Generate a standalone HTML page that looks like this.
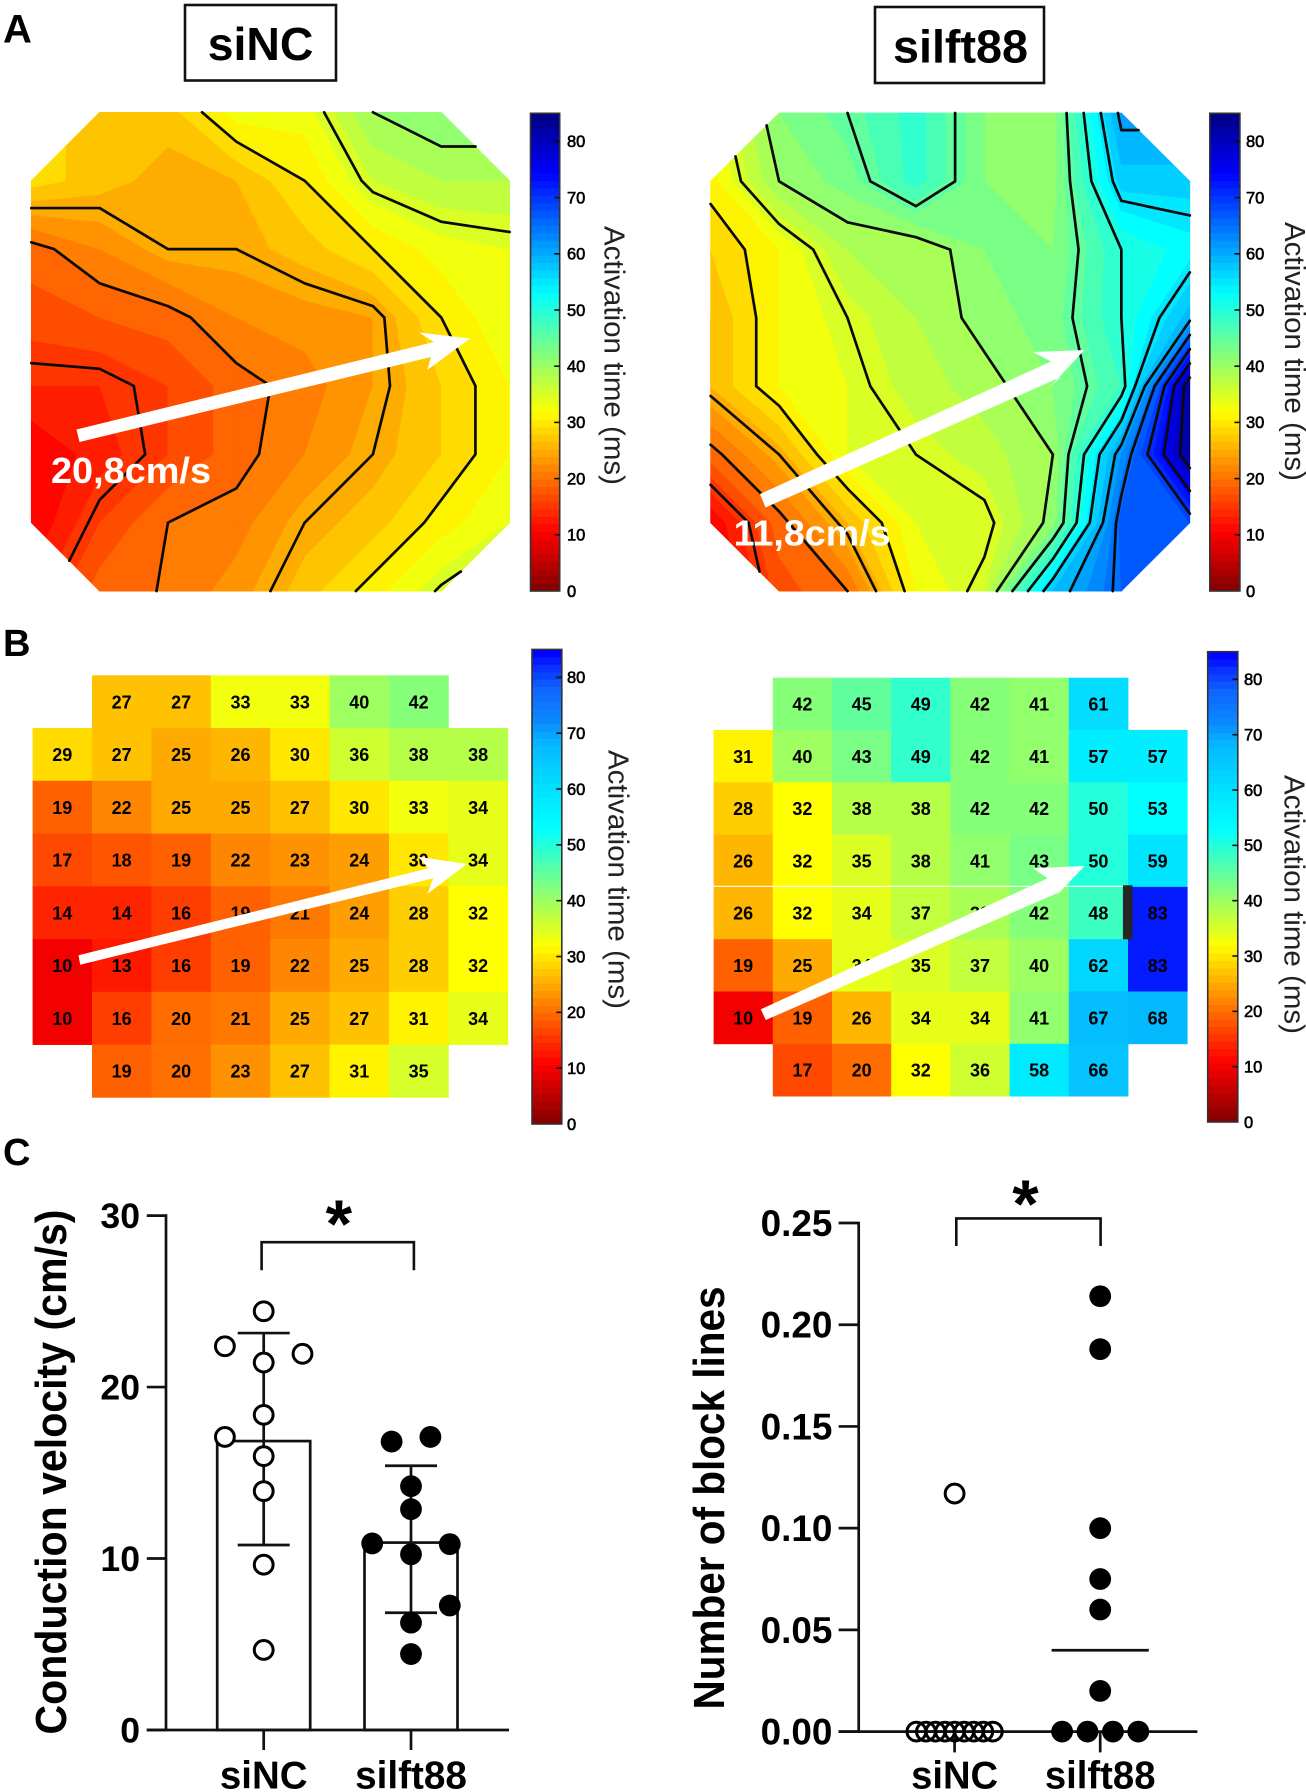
<!DOCTYPE html>
<html lang="en">
<head>
<meta charset="utf-8">
<title>Activation maps and conduction velocity: siNC vs silft88</title>
<style>
html,body{margin:0;padding:0;background:#fff;width:1306px;height:1792px;overflow:hidden}
svg{display:block}
text{font-family:"Liberation Sans",Arial,sans-serif;fill:#000}
.b{font-weight:bold}
</style>
</head>
<body>
<svg id="fig" xmlns="http://www.w3.org/2000/svg" width="1306" height="1792" viewBox="0 0 1306 1792">
  <rect x="0" y="0" width="1306" height="1792" fill="#fff"/>

  <text class="b" x="3" y="42.5" font-size="40">A</text>
  <text class="b" x="3" y="656" font-size="38">B</text>
  <text class="b" x="3" y="1165" font-size="38">C</text>

  <rect x="185" y="5" width="151" height="75.5" fill="#fff" stroke="#111" stroke-width="2.6"/>
  <text class="b" x="260.6" y="60" font-size="46.4" text-anchor="middle">siNC</text>
  <rect x="875" y="7" width="169" height="76" fill="#fff" stroke="#111" stroke-width="2.6"/>
  <text class="b" x="960.5" y="62.7" font-size="46" text-anchor="middle" textLength="135" lengthAdjust="spacingAndGlyphs">silft88</text>

  <g id="mapA1"></g>
  <g id="mapA2"></g>
  <g id="gridB1"></g>
  <g id="gridB2"></g>
  <g id="bars"></g>

  <polygon points="76.5,429.5 79.5,442 431,357 427.3,370 470,338.5 419,332.5 434,342" fill="#fff"/>
  <text class="b" x="51" y="483" font-size="36" style="fill:#fff" textLength="160" lengthAdjust="spacingAndGlyphs">20,8cm/s</text>
  <polygon points="760,494 765.5,507.5 1061,377 1049,387.7 1084.5,350 1033,352 1051,361.5" fill="#fff"/>
  <text class="b" x="733.6" y="545.6" font-size="36" style="fill:#fff" textLength="157" lengthAdjust="spacingAndGlyphs">11,8cm/s</text>

  <polygon points="78.5,955.3 80.2,964.7 433.3,878.3 427.3,894 466.7,864 418.3,856.7 428.3,868.3" fill="#fff"/>
  <line x1="713.6" y1="886.3" x2="1123" y2="886.3" stroke="#fff" stroke-width="1.2"/>
  <rect x="1122.9" y="885.3" width="9.6" height="54" fill="#262626"/>
  <polygon points="760.8,1009.3 765.8,1020 1060.3,891.7 1049,903.3 1084.5,866 1033,868.3 1047.7,878.3" fill="#fff"/>

  <g id="chartCV"></g>
  <g id="chartBL"></g>
</svg>

<script>
/* ---------- data ---------- */
const siNCGrid = [
  [null,27,27,33,33,40,42,null],
  [29,27,25,26,30,36,38,38],
  [19,22,25,25,27,30,33,34],
  [17,18,19,22,23,24,30,34],
  [14,14,16,19,21,24,28,32],
  [10,13,16,19,22,25,28,32],
  [10,16,20,21,25,27,31,34],
  [null,19,20.2,23,27,31,35.4,null]
];
const silft88Grid = [
  [null,42,45,49,42,41,61,null],
  [31,40,43,49,42,41,57,57],
  [28,32,38,38,42,42,50,53],
  [26,32,35,38,41,43,50,59],
  [26,32,34,37,39,42,48,83],
  [19,25,34,35,37,40,62,83],
  [10,19,26,34,34,41,67,68],
  [null,17,20,32,36,58,66,null]
];
const contourLevels = [15,20,25,30,35,40,45,50,55,60,65,70,75,80];
const activationTicks = [0,10,20,30,40,50,60,70,80];

const cvCategories = ['siNC','silft88'];
const cvTicks = [0,10,20,30];
const cvMeans = [16.85,10.93];
const cvUpper = [23.15,15.41];
const cvLower = [10.79,6.84];
const cvSiNC = [24.42,22.38,21.94,21.43,18.38,17.09,15.97,13.93,9.64,4.67];
const cvSiNCSlots = [0,-2,2,0,0,-2,0,0,0,0];
const cvSilft = [16.82,17.09,14.22,12.88,10.88,10.84,10.25,7.26,6.26,4.43];
const cvSilftSlots = [-1,1,0,0,-2,2,0,2,0,0];

const blCategories = ['siNC','silft88'];
const blTicks = [0,0.05,0.10,0.15,0.20,0.25];
const blSiNC = [0.117,0,0,0,0,0,0,0,0,0];
const blSiNCSlots = [0,-4,-3,-2,-1,0,1,2,3,4];
const blSilft = [0.214,0.188,0.100,0.075,0.060,0.020,0,0,0,0];
const blSilftSlots = [0,0,0,0,0,0,-3,-1,1,3];
const blMeans = [0,0.04];

/* ---------- colour maps ---------- */
const jetStops = [[0,128,0,0],[10.6,255,0,0],[31.9,255,255,0],[53,0,255,255],[74.4,0,0,255],[85,0,0,128]];
const gridStops = [[0,128,0,0],[11,255,0,0],[32,255,255,0],[53,0,255,255],[60,0,225,255],[68,5,185,255],[72,10,140,255],[78,16,100,255],[82,8,45,255],[84,0,8,255],[85,0,0,255]];
function colorOf(stops,v){
  v=Math.max(0,Math.min(85,v));
  for(let i=1;i<stops.length;i++){
    if(v<=stops[i][0]){
      const a=stops[i-1],b=stops[i],t=(v-a[0])/(b[0]-a[0]);
      return 'rgb('+[1,2,3].map(k=>Math.round(a[k]+(b[k]-a[k])*t)).join(',')+')';
    }
  }
  const l=stops[stops.length-1];
  return 'rgb('+l[1]+','+l[2]+','+l[3]+')';
}

/* ---------- helpers ---------- */
const NS='http://www.w3.org/2000/svg';
function mk(parent,tag,attrs,txt){
  const el=document.createElementNS(NS,tag);
  for(const k in attrs)el.setAttribute(k,attrs[k]);
  if(txt!==undefined)el.textContent=txt;
  parent.appendChild(el);
  return el;
}
function clipPoly(poly,level,above){
  const out=[];
  for(let i=0;i<poly.length;i++){
    const a=poly[i],b=poly[(i+1)%poly.length];
    const ina=above?a.v>=level:a.v<=level,inb=above?b.v>=level:b.v<=level;
    if(ina)out.push(a);
    if(ina!==inb){
      const t=(level-a.v)/(b.v-a.v);
      out.push({x:a.x+(b.x-a.x)*t,y:a.y+(b.y-a.y)*t,v:level});
    }
  }
  return out;
}

/* ---------- panel A: filled contour maps computed from the grids ---------- */
function drawContourMap(parent,grid,x0,y0,dx,dy,id){
  const X=c=>x0+c*dx,Y=r=>y0+r*dy;
  const cells=[];
  for(let r=0;r<grid.length-1;r++)for(let c=0;c<grid[r].length-1;c++){
    const nodes=[[r,c],[r,c+1],[r+1,c+1],[r+1,c]].filter(n=>grid[n[0]][n[1]]!==null);
    cells.push(nodes.map(n=>({x:X(n[1]),y:Y(n[0]),v:grid[n[0]][n[1]]})));
  }
  const step=2;
  for(let lo=0;lo<85;lo+=step){
    const hi=lo+step;
    let d='';
    cells.forEach(p=>{
      const q=clipPoly(clipPoly(p,lo,true),hi,false);
      if(q.length>=3)d+='M'+q.map(n=>n.x.toFixed(2)+' '+n.y.toFixed(2)).join('L')+'Z';
    });
    if(d){
      const col=colorOf(jetStops,lo+step/2);
      const band=mk(parent,'path',{d:d,fill:col,stroke:col,'stroke-width':0.7,'stroke-linejoin':'round'});
      
      
    }
  }
  contourLevels.forEach(level=>{
    const L=level-1e-3;
    let d='';
    cells.forEach(p=>{
      const pts=[];
      for(let i=0;i<p.length;i++){
        const a=p[i],b=p[(i+1)%p.length];
        if((a.v-L)*(b.v-L)<0){
          const t=(L-a.v)/(b.v-a.v);
          pts.push([a.x+(b.x-a.x)*t,a.y+(b.y-a.y)*t]);
        }
      }
      for(let i=0;i+1<pts.length;i+=2){
        d+='M'+pts[i][0].toFixed(2)+' '+pts[i][1].toFixed(2)+'L'+pts[i+1][0].toFixed(2)+' '+pts[i+1][1].toFixed(2);
      }
    });
    if(d){
      const line=mk(parent,'path',{d:d,fill:'none',stroke:'#0a0a0a','stroke-width':2.7,'stroke-linecap':'round'});
      
      
    }
  });
}

/* ---------- panel B: value grids ---------- */
function drawCellGrid(parent,grid,x0,y0,dx,dy,id){
  grid.forEach((row,r)=>row.forEach((v,c)=>{
    if(v===null)return;
    const cell=mk(parent,'rect',{x:x0+c*dx,y:y0+r*dy,width:dx+0.4,height:dy+0.4,fill:colorOf(gridStops,v)});
    
    
  }));
  grid.forEach((row,r)=>row.forEach((v,c)=>{
    if(v===null)return;
    const t=mk(parent,'text',{x:x0+(c+0.5)*dx,y:y0+(r+0.5)*dy+6.6,'font-size':18,'text-anchor':'middle','font-weight':'bold'},String(Math.round(v)));
    
    
  }));
}

/* ---------- colour bars ---------- */
function drawColorbar(parent,stops,x,w,yTop,yZero,pxPer,labelX,titleX,titleTop,id){
  const Y=v=>yZero-v*pxPer;
  const n=64;
  for(let i=0;i<n;i++){
    const a=85*i/n,b=85*(i+1)/n;
    const seg=mk(parent,'rect',{x:x,y:Y(b),width:w,height:Y(a)-Y(b)+0.5,fill:colorOf(stops,(a+b)/2)});
    
    
  }
  const frame=mk(parent,'rect',{x:x,y:Y(85),width:w,height:Y(0)-Y(85),fill:'none',stroke:'#333','stroke-width':1.6});
  
  
  activationTicks.forEach(v=>{
    if(v>0){
      const tick=mk(parent,'line',{x1:x+w-5.5,x2:x+w,y1:Y(v),y2:Y(v),stroke:'#111','stroke-width':1.6});
      
      
    }
    const lab=mk(parent,'text',{x:labelX,y:Y(v)+5.8,'font-size':16.5,stroke:'#000','stroke-width':0.6},String(v));
    
    
  });
  const title=mk(parent,'text',{x:0,y:0,'font-size':29,transform:'translate('+titleX+','+titleTop+') rotate(90)',textLength:259,lengthAdjust:'spacingAndGlyphs',style:'fill:#222'},'Activation time (ms)');
  
  
}

/* ---------- bottom charts ---------- */
const AXW=2.7;
function axisLine(parent,x1,y1,x2,y2,name){
  const l=mk(parent,'line',{x1:x1,y1:y1,x2:x2,y2:y2,stroke:'#111','stroke-width':AXW});
  
  
  return l;
}
function drawDot(parent,cx,cy,r,open,fillOpen,name){
  const c=mk(parent,'circle',{cx:cx,cy:cy,r:open?r-1.5:r,fill:open?fillOpen:'#000',stroke:open?'#000':'none','stroke-width':3});
  
  
}
function drawBracket(parent,x1,x2,yTop,yBottom,starX,starY,name){
  const b=mk(parent,'path',{d:'M'+x1+' '+yBottom+'V'+yTop+'H'+x2+'V'+yBottom,fill:'none',stroke:'#111','stroke-width':2.6});
  
  
  const s=mk(parent,'text',{x:starX,y:starY,'font-size':68,'text-anchor':'middle','font-weight':'bold'},'*');
  
  
}

function drawCV(parent){
  const y=v=>1730-v*17.147;
  const xPos=[263.7,411];
  const barHalf=46.5,capHalf=26,slot=19.4,r=10.9;
  cvMeans.forEach((m,i)=>{
    const bar=mk(parent,'rect',{x:xPos[i]-barHalf,y:y(m),width:barHalf*2,height:y(0)-y(m),fill:'#fff',stroke:'#111','stroke-width':AXW});
    
    
    axisLine(parent,xPos[i],y(cvUpper[i]),xPos[i],y(cvLower[i]),'error-bar-'+cvCategories[i]);
    axisLine(parent,xPos[i]-capHalf,y(cvUpper[i]),xPos[i]+capHalf,y(cvUpper[i]),'error-cap-upper-'+cvCategories[i]);
    axisLine(parent,xPos[i]-capHalf,y(cvLower[i]),xPos[i]+capHalf,y(cvLower[i]),'error-cap-lower-'+cvCategories[i]);
  });
  axisLine(parent,166,y(30)-1.3,166,y(0),'y-axis');
  axisLine(parent,146.8,y(0),509,y(0),'x-axis');
  cvTicks.forEach(v=>{
    axisLine(parent,146.8,y(v),166,y(v),'y-tick');
    const t=mk(parent,'text',{x:140,y:y(v)+12.5,'font-size':35.6,'text-anchor':'end','font-weight':'bold'},String(v));
    
    
  });
  const labW=[87.6,111.8];
  cvCategories.forEach((c,i)=>{
    axisLine(parent,xPos[i],y(0),xPos[i],1750,'x-tick');
    const t=mk(parent,'text',{x:xPos[i]-labW[i]/2,y:1788.7,'font-size':38.5,'font-weight':'bold',textLength:labW[i],lengthAdjust:'spacingAndGlyphs'},c);
    
    
  });
  cvSiNC.forEach((v,i)=>drawDot(parent,xPos[0]+cvSiNCSlots[i]*slot,y(v),r,true,'#fff','point-sinc'));
  cvSilft.forEach((v,i)=>drawDot(parent,xPos[1]+cvSilftSlots[i]*slot,y(v),r,false,'','point-silft88'));
  const title=mk(parent,'text',{x:0,y:0,'font-size':44,'font-weight':'bold',transform:'translate(66,1734.5) rotate(-90)',textLength:525,lengthAdjust:'spacingAndGlyphs'},'Conduction velocity (cm/s)');
  
  
  drawBracket(parent,261.6,413.9,1242.2,1270.2,338.8,1247,'velocity');
}

function drawBL(parent){
  const y=v=>1731.6-v*2034.4;
  const xPos=[954.6,1100.2];
  const slotA=9.55,slotB=12.7,r=10.9;
  axisLine(parent,858.7,y(0.25)-1.3,858.7,y(0),'y-axis');
  axisLine(parent,838.6,y(0),1197.4,y(0),'x-axis');
  blTicks.forEach(v=>{
    axisLine(parent,838.6,y(v),858.7,y(v),'y-tick');
    const t=mk(parent,'text',{x:832.4,y:y(v)+13,'font-size':36.9,'text-anchor':'end','font-weight':'bold'},v.toFixed(2));
    
    
  });
  const labW=[87,110.6];
  blCategories.forEach((c,i)=>{
    axisLine(parent,xPos[i],y(0),xPos[i],1752.4,'x-tick');
    const t=mk(parent,'text',{x:xPos[i]-labW[i]/2,y:1788.7,'font-size':38.5,'font-weight':'bold',textLength:labW[i],lengthAdjust:'spacingAndGlyphs'},c);
    
    
  });
  blMeans.forEach((m,i)=>{
    axisLine(parent,xPos[i]-48.6,y(m),xPos[i]+48.6,y(m),'mean-line-'+blCategories[i]);
  });
  blSiNC.forEach((v,i)=>drawDot(parent,xPos[0]+blSiNCSlots[i]*slotA,y(v),r,true,'none','point-sinc'));
  blSilft.forEach((v,i)=>drawDot(parent,xPos[1]+blSilftSlots[i]*slotB,y(v),r,false,'','point-silft88'));
  const title=mk(parent,'text',{x:0,y:0,'font-size':44,'font-weight':'bold',transform:'translate(724,1709.5) rotate(-90)',textLength:423,lengthAdjust:'spacingAndGlyphs'},'Number of block lines');
  
  
  drawBracket(parent,956.3,1100.6,1218.4,1246,1025.5,1227,'block-lines');
}

/* ---------- render ---------- */
drawContourMap(document.getElementById('mapA1'),siNCGrid,31.3,112.3,68.33,68.4,'sinc-map');
drawContourMap(document.getElementById('mapA2'),silft88Grid,710.6,113,68.46,68.3,'silft88-map');
drawCellGrid(document.getElementById('gridB1'),siNCGrid,32.6,675.3,59.4,52.75,'sinc-grid');
drawCellGrid(document.getElementById('gridB2'),silft88Grid,713.6,677.7,59.2,52.3,'silft88-grid');
const barsLayer=document.getElementById('bars');
drawColorbar(barsLayer,jetStops,530.5,29.2,112.3,591,5.62,567,604.5,226,'sinc-map');
drawColorbar(barsLayer,jetStops,1209.8,30.1,113,591,5.62,1246,1285,222,'silft88-map');
drawColorbar(barsLayer,gridStops,532,29.8,649.3,1124,5.583,567,608.6,750,'sinc-grid');
drawColorbar(barsLayer,gridStops,1207.7,30.1,651.3,1122,5.533,1244,1284.6,775,'silft88-grid');
drawCV(document.getElementById('chartCV'));
drawBL(document.getElementById('chartBL'));
</script>
</body>
</html>
